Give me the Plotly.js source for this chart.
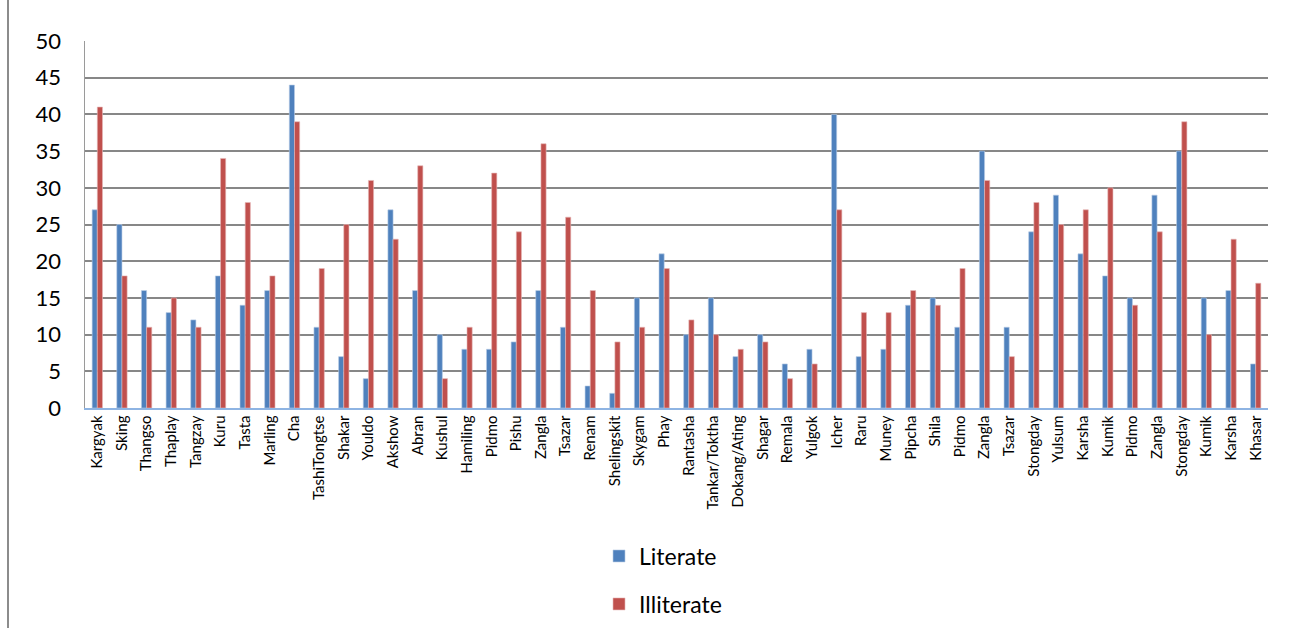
<!DOCTYPE html>
<html>
<head>
<meta charset="utf-8">
<script src="https://cdn.plot.ly/plotly-3.0.1.min.js"></script>
<style>
html,body{margin:0;padding:0;background:#fff;}
#wrap{position:relative;width:1291px;height:628px;}
#edge{position:absolute;left:7px;top:0;width:2px;height:628px;background:#8c8c8c;}
#chart{position:absolute;left:0;top:0;width:1291px;height:628px;}
</style>
</head>
<body>
<div id="wrap"><div id="chart"></div><div id="edge"></div></div>
<script>
const villages = ["Kargyak","Sking","Thangso","Thaplay","Tangzay","Kuru","Tasta","Marling","Cha","TashiTongtse","Shakar","Youldo","Akshow","Abran","Kushul","Hamiling","Pidmo","Pishu","Zangla","Tsazar","Renam","Shelingskit","Skygam","Phay","Rantasha","Tankar/Toktha","Dokang/Ating","Shagar","Remala","Yulgok","Icher","Raru","Muney","Pipcha","Shila","Pidmo","Zangla","Tsazar","Stongday","Yulsum","Karsha","Kumik","Pidmo","Zangla","Stongday","Kumik","Karsha","Khasar"];
const literate = [27,25,16,13,12,18,14,16,44,11,7,4,27,16,10,8,8,9,16,11,3,2,15,21,10,15,7,10,6,8,40,7,8,14,15,11,35,11,24,29,21,18,15,29,35,15,16,6];
const illiterate = [41,18,11,15,11,34,28,18,39,19,25,31,23,33,4,11,32,24,36,26,16,9,11,19,12,10,8,9,4,6,27,13,13,16,14,19,31,7,28,25,27,30,14,24,39,10,23,17];
const yTicks = [0,5,10,15,20,25,30,35,40,45,50];

const idx = villages.map((_, i) => i);
const font = "Lato, 'Open Sans', sans-serif";

const traces = [
  {type:'bar', name:'Literate', x:idx, y:literate, legend:'legend',
   marker:{color:'#4F81BD', line:{color:'#b9cde5', width:0.6}}},
  {type:'bar', name:'Illiterate', x:idx, y:illiterate, legend:'legend2',
   marker:{color:'#C0504D', line:{color:'#e6b9b8', width:0.6}}}
];

const legendBase = {orientation:'v', x:0.4345, xanchor:'left', yanchor:'middle',
  font:{size:23, family:font}, itemwidth:30, bgcolor:'rgba(0,0,0,0)'};

const layout = {
  width:1291, height:628,
  margin:{l:85, r:23, t:41, b:220, autoexpand:false},
  paper_bgcolor:'#fff', plot_bgcolor:'#fff',
  barmode:'group', bargap:0.58, bargroupgap:0,
  font:{family:font, color:'#000'},
  showlegend:true,
  legend:Object.assign({}, legendBase, {y:-0.4033}),
  legend2:Object.assign({}, legendBase, {y:-0.534}),
  xaxis:{
    tickmode:'array', tickvals:idx, ticktext:villages, tickangle:-90,
    tickfont:{size:15, family:font}, range:[-0.5, villages.length-0.5],
    showgrid:false, zeroline:false, showline:true, linecolor:'#8eb4e3', linewidth:1.5,
    ticks:'', fixedrange:true, automargin:false
  },
  yaxis:{
    range:[0,50], tickmode:'array', tickvals:yTicks, ticktext:yTicks.map(String),
    tickfont:{size:22, family:font}, showgrid:true, gridcolor:'#878787', gridwidth:2,
    zeroline:false, showline:true, linecolor:'#9a9a9a', linewidth:1.5, ticks:'',
    ticklabelstandoff:18, fixedrange:true, automargin:false
  }
};

Plotly.newPlot('chart', traces, layout, {displayModeBar:false, staticPlot:true});
</script>
</body>
</html>
